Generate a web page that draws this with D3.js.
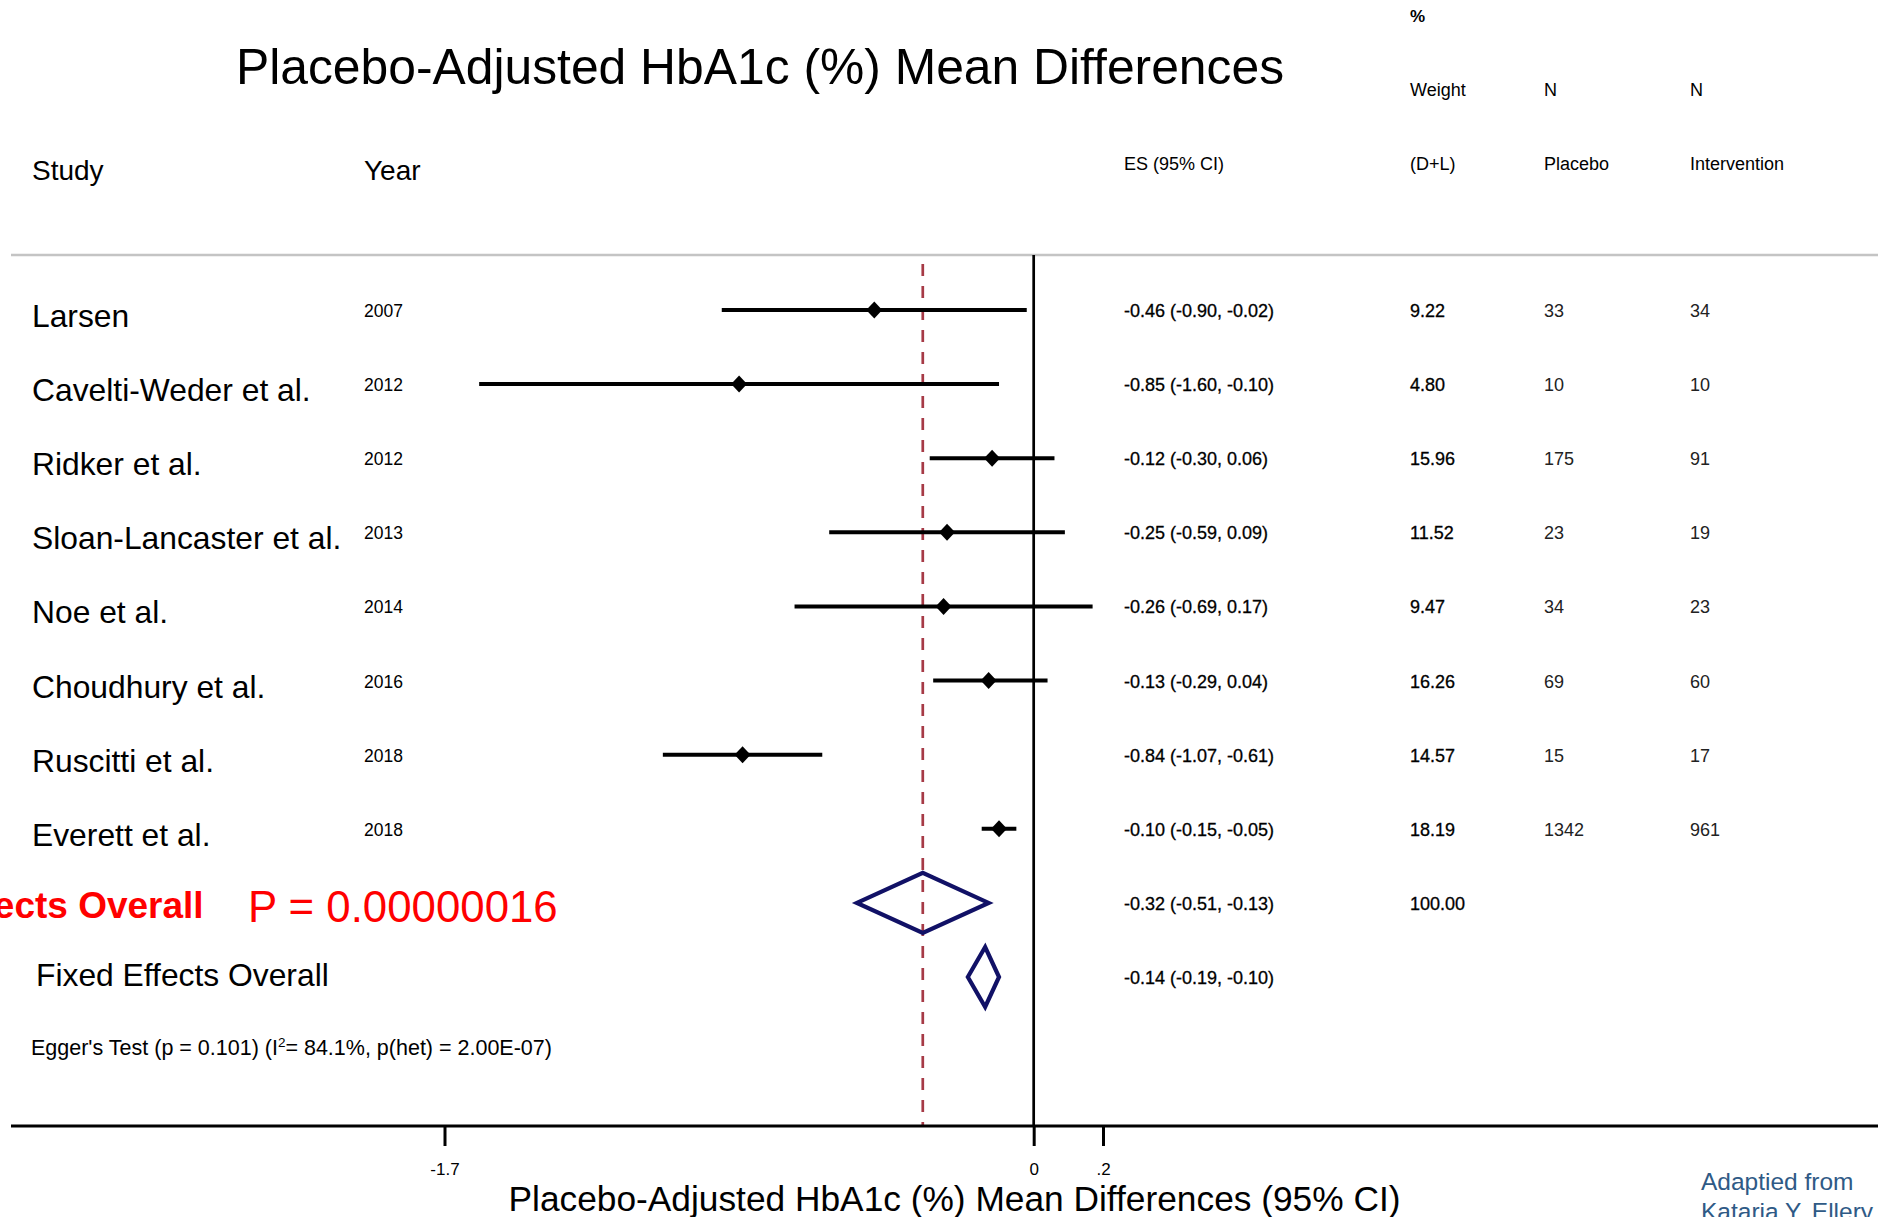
<!DOCTYPE html>
<html><head><meta charset="utf-8">
<script src="https://cdn.jsdelivr.net/npm/d3@7"></script>
<style>
html,body{margin:0;padding:0;background:#fff;overflow:hidden;}
svg{display:block;font-family:"Liberation Sans",Arial,Helvetica,sans-serif;}
</style></head>
<body>
<svg id="chart" width="1878" height="1217"></svg>
<script>
// ---- data ----
const studies = ["Larsen","Cavelti-Weder et al.","Ridker et al.","Sloan-Lancaster et al.","Noe et al.","Choudhury et al.","Ruscitti et al.","Everett et al."];
const years = ["2007","2012","2012","2013","2014","2016","2018","2018"];
const es = [-0.46,-0.85,-0.12,-0.25,-0.26,-0.13,-0.84,-0.10];
const ciLow = [-0.90,-1.60,-0.30,-0.59,-0.69,-0.29,-1.07,-0.15];
const ciHigh = [-0.02,-0.10,0.06,0.09,0.17,0.04,-0.61,-0.05];
const weights = ["9.22","4.80","15.96","11.52","9.47","16.26","14.57","18.19"];
const nPlacebo = ["33","10","175","23","34","69","15","1342"];
const nIntervention = ["34","10","91","19","23","60","17","961"];
const pooledLabels = ["Random Effects Overall","Fixed Effects Overall"];
const pooledEs = [-0.32,-0.14];
const pooledLow = [-0.51,-0.19];
const pooledHigh = [-0.13,-0.10];
const pooledWeight = ["100.00",""];
const tickValues = [-1.7,0,0.2];
const tickLabels = ["-1.7","0",".2"];
const pText = "P = 0.00000016";
const eggerText = ["Egger's Test (p = 0.101) (I","2","= 84.1%, p(het) = 2.00E-07)"];

const fmt = v => v.toFixed(2);
const esLabel = (e,l,h) => `${fmt(e)} (${fmt(l)}, ${fmt(h)})`;

const svg = d3.select("#chart");
const W = 1878;

// scales
const x = d3.scaleLinear().domain([-1.7,0.2]).range([444.5,1103]);
const rowKeys = studies.concat(pooledLabels);
const y = d3.scalePoint().domain(rowKeys).range([310,977]);

// title
svg.append("text").attr("x",760).attr("y",84).attr("text-anchor","middle")
  .attr("font-size",49.8).attr("fill","#000").text("Placebo-Adjusted HbA1c (%) Mean Differences");

// headers
const hdr = (t,xx,yy,fs,bold) => svg.append("text").attr("x",xx).attr("y",yy)
  .attr("font-size",fs).attr("font-weight",bold?"bold":"normal").attr("fill","#000").text(t);
hdr("Study",32,180,28);
hdr("Year",364,180,28);
hdr("%",1410,22,17,true);
hdr("Weight",1410,96,18);
hdr("N",1544,96,18);
hdr("N",1690,96,18);
hdr("ES (95% CI)",1124,170,18);
hdr("(D+L)",1410,170,18);
hdr("Placebo",1544,170,18);
hdr("Intervention",1690,170,18);

// top gray rule
svg.append("line").attr("x1",11).attr("x2",W).attr("y1",255).attr("y2",255)
  .attr("stroke","#c4c4c4").attr("stroke-width",2.5);

// zero line
svg.append("line").attr("x1",x(0)).attr("x2",x(0)).attr("y1",255).attr("y2",1126)
  .attr("stroke","#000").attr("stroke-width",2.7);

// pooled (random) dashed line
svg.append("line").attr("x1",x(pooledEs[0])).attr("x2",x(pooledEs[0])).attr("y1",264).attr("y2",1126)
  .attr("stroke","#a63a46").attr("stroke-width",2.7).attr("stroke-dasharray","12,10");

// study rows
const rows = svg.append("g").selectAll("g").data(studies).join("g");
rows.append("line")
  .attr("x1",(d,i)=>x(ciLow[i])).attr("x2",(d,i)=>x(ciHigh[i]))
  .attr("y1",d=>y(d)).attr("y2",d=>y(d))
  .attr("stroke","#000").attr("stroke-width",4);
rows.append("path")
  .attr("d",(d,i)=>{const cx=x(es[i]),cy=y(d);return `M${cx-8},${cy}L${cx},${cy-8.5}L${cx+8},${cy}L${cx},${cy+8.5}Z`;})
  .attr("fill","#000");
rows.append("text").attr("x",32).attr("y",d=>y(d)+6).attr("dominant-baseline","central")
  .attr("font-size",31.8).attr("fill","#000").text(d=>d);
rows.append("text").attr("x",364).attr("y",d=>y(d)+1).attr("dominant-baseline","central")
  .attr("font-size",17.5).attr("fill","#000").text((d,i)=>years[i]);
rows.append("text").attr("x",1124).attr("y",d=>y(d)+1).attr("dominant-baseline","central")
  .attr("font-size",18).attr("fill","#000").attr("stroke","#000").attr("stroke-width",0.3)
  .text((d,i)=>esLabel(es[i],ciLow[i],ciHigh[i]));
rows.append("text").attr("x",1410).attr("y",d=>y(d)+1).attr("dominant-baseline","central")
  .attr("font-size",18).attr("fill","#000").attr("stroke","#000").attr("stroke-width",0.3)
  .text((d,i)=>weights[i]);
rows.append("text").attr("x",1544).attr("y",d=>y(d)+1).attr("dominant-baseline","central")
  .attr("font-size",18).attr("fill","#222").text((d,i)=>nPlacebo[i]);
rows.append("text").attr("x",1690).attr("y",d=>y(d)+1).attr("dominant-baseline","central")
  .attr("font-size",18).attr("fill","#222").text((d,i)=>nIntervention[i]);

// pooled rows
const prow = svg.append("g").selectAll("g").data(pooledLabels).join("g");
prow.append("path")
  .attr("d",(d,i)=>{const cy=y(d),l=x(pooledLow[i]),h=x(pooledHigh[i]),c=x(pooledEs[i]);
     return `M${l},${cy}L${c},${cy-30}L${h},${cy}L${c},${cy+30}Z`;})
  .attr("fill","none").attr("stroke","#111166").attr("stroke-width",4.2).attr("stroke-linejoin","miter");
prow.append("text").attr("x",1124).attr("y",d=>y(d)+1).attr("dominant-baseline","central")
  .attr("font-size",18).attr("fill","#000").attr("stroke","#000").attr("stroke-width",0.3)
  .text((d,i)=>esLabel(pooledEs[i],pooledLow[i],pooledHigh[i]));
prow.append("text").attr("x",1410).attr("y",d=>y(d)+1).attr("dominant-baseline","central")
  .attr("font-size",18).attr("fill","#000").attr("stroke","#000").attr("stroke-width",0.3)
  .text((d,i)=>pooledWeight[i]);

// pooled labels
svg.append("text").attr("x",203.6).attr("y",y(pooledLabels[0])+2.5).attr("dominant-baseline","central")
  .attr("text-anchor","end").attr("font-size",37).attr("font-weight","bold").attr("fill","#ff0000")
  .text(pooledLabels[0]);
svg.append("text").attr("x",248).attr("y",y(pooledLabels[0])+3.5).attr("dominant-baseline","central")
  .attr("font-size",43.8).attr("fill","#ff0000").text(pText);
svg.append("text").attr("x",36).attr("y",y(pooledLabels[1])-2).attr("dominant-baseline","central")
  .attr("font-size",31.8).attr("fill","#000").text(pooledLabels[1]);

// Egger's test
const eg = svg.append("text").attr("x",31).attr("y",1055).attr("font-size",21.5).attr("fill","#000");
eg.append("tspan").text(eggerText[0]);
eg.append("tspan").attr("font-size",13.5).attr("dy",-8).text(eggerText[1]);
eg.append("tspan").attr("dy",8).text(eggerText[2]);

// x axis
svg.append("line").attr("x1",11).attr("x2",W).attr("y1",1126).attr("y2",1126)
  .attr("stroke","#000").attr("stroke-width",3);
const ax = svg.append("g").attr("transform","translate(0,1126)")
  .call(d3.axisBottom(x).tickValues(tickValues).tickSize(20).tickPadding(17)
    .tickFormat((d,i)=>tickLabels[i]));
ax.select(".domain").remove();
ax.selectAll(".tick line").attr("stroke","#000").attr("stroke-width",3);
ax.selectAll(".tick text").attr("font-size",17).attr("fill","#000")
  .attr("font-family","'Liberation Sans',Arial,sans-serif");

svg.append("text").attr("x",954.5).attr("y",1211).attr("text-anchor","middle")
  .attr("font-size",35.3).attr("fill","#000").text("Placebo-Adjusted HbA1c (%) Mean Differences (95% CI)");

// source note
svg.append("text").attr("x",1701).attr("y",1190).attr("font-size",24.5).attr("fill","#2f5a86").text("Adaptied from");
svg.append("text").attr("x",1701).attr("y",1220).attr("font-size",24.5).attr("fill","#2f5a86").text("Kataria Y, Ellery C, et al.");
</script>
</body></html>
